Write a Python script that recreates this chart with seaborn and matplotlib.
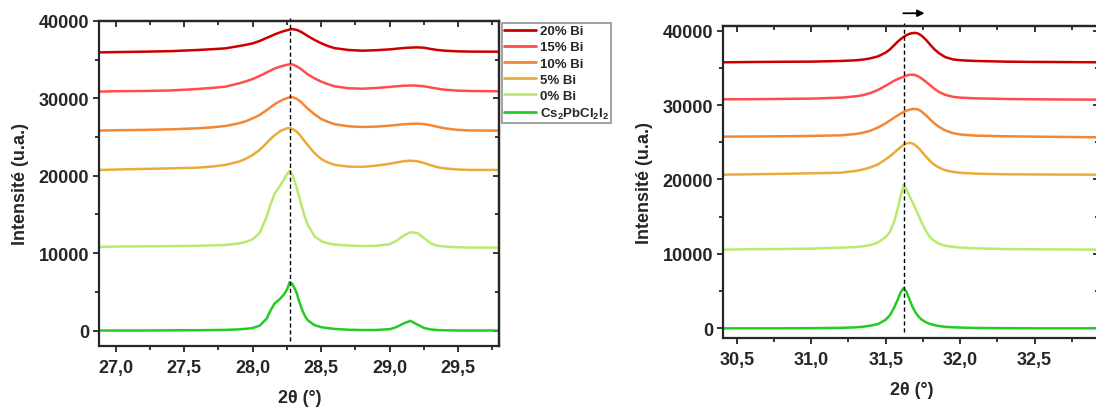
import matplotlib
matplotlib.use('Agg')
import pandas as pd
import matplotlib.pyplot as plt
from matplotlib.lines import Line2D
from matplotlib.ticker import MultipleLocator, FuncFormatter
import seaborn as sns

# sample names (legend order) and colours
samples = ['20% Bi', '15% Bi', '10% Bi', '5% Bi', '0% Bi',
           r'Cs$_\mathbf{2}$PbCl$_\mathbf{2}$I$_\mathbf{2}$']
colors = ['#CC0000', '#FF4D4D', '#F58634', '#EBAA3A', '#B8EA70', '#22CC22']

# left window, peak near 28.3 deg
tt_left = [26.88, 27.0, 27.2, 27.4, 27.6, 27.7, 27.8, 27.9, 27.95, 28.0, 28.05,
           28.1, 28.13, 28.16, 28.2, 28.23, 28.25, 28.27, 28.29, 28.32, 28.34, 28.36,
           28.38, 28.4, 28.45, 28.5, 28.55, 28.6, 28.7, 28.8, 28.9, 29.0, 29.05,
           29.1, 29.15, 29.2, 29.25, 29.3, 29.35, 29.4, 29.5, 29.6, 29.8]
left_20 = [35940, 35980, 36030, 36100, 36250, 36350, 36460, 36760, 36920, 37110, 37410,
           37800, 38020, 38270, 38530, 38710, 38800, 38900, 38950, 38850, 38700, 38520,
           38300, 38070, 37560, 37120, 36750, 36480, 36250, 36160, 36220, 36330, 36420,
           36500, 36560, 36590, 36540, 36380, 36250, 36160, 36070, 36040, 36030]
left_15 = [30870, 30920, 30950, 31020, 31210, 31350, 31510, 31940, 32200, 32500, 32890,
           33330, 33600, 33850, 34100, 34250, 34330, 34400, 34380, 34150, 33930, 33680,
           33400, 33120, 32600, 32160, 31820, 31550, 31300, 31250, 31340, 31480, 31560,
           31630, 31660, 31640, 31560, 31400, 31250, 31120, 30990, 30950, 30910]
left_10 = [25830, 25880, 25920, 26000, 26130, 26250, 26430, 26780, 27050, 27420, 27850,
           28450, 28850, 29250, 29650, 29900, 30030, 30150, 30150, 29950, 29700, 29400,
           29050, 28700, 27950, 27340, 26950, 26650, 26390, 26300, 26350, 26470, 26560,
           26650, 26700, 26730, 26680, 26520, 26320, 26130, 25920, 25850, 25830]
left_5 = [20750, 20800, 20880, 20950, 21050, 21180, 21400, 21830, 22200, 22700, 23330,
          24200, 24750, 25250, 25750, 26000, 26120, 26150, 26050, 25700, 25350, 24900,
          24450, 24000, 22950, 22150, 21700, 21400, 21180, 21150, 21300, 21550, 21720,
          21870, 21950, 21880, 21650, 21350, 21100, 20950, 20800, 20750, 20750]
left_0 = [10800, 10850, 10880, 10900, 10950, 11000, 11060, 11250, 11450, 11800, 12600,
          14600, 16300, 17700, 18700, 19600, 20200, 20650, 20100, 18500, 17200, 15900,
          14700, 13700, 12200, 11550, 11250, 11100, 10980, 10920, 10950, 11150, 11600,
          12250, 12700, 12600, 11950, 11250, 10950, 10850, 10750, 10720, 10700]
left_cs = [0, 0, 0, 20, 40, 60, 80, 150, 220, 320, 620,
           1500, 2600, 3500, 4100, 4700, 5300, 6250, 6000, 4900, 3700, 2700,
           1900, 1350, 700, 430, 300, 200, 100, 60, 70, 170, 450,
           900, 1250, 780, 330, 140, 60, 30, 0, 0, 0]

# right window, peak near 31.6 deg
tt_right = [30.41, 30.6, 30.8, 31.0, 31.2, 31.3, 31.35, 31.4, 31.45, 31.5, 31.53,
            31.56, 31.58, 31.6, 31.62, 31.64, 31.66, 31.68, 31.7, 31.72, 31.74, 31.77,
            31.8, 31.83, 31.86, 31.9, 31.95, 32.0, 32.1, 32.3, 32.5, 32.7, 32.935]
right_20 = [35750, 35790, 35820, 35840, 35930, 36020, 36120, 36290, 36560, 37050, 37500,
            38100, 38500, 38850, 39150, 39400, 39580, 39680, 39700, 39600, 39350, 38800,
            38100, 37450, 36950, 36450, 36150, 36030, 35930, 35840, 35800, 35780, 35750]
right_15 = [30780, 30790, 30830, 30870, 31000, 31180, 31350, 31630, 32050, 32600, 32950,
            33300, 33480, 33650, 33800, 33970, 34070, 34100, 34020, 33850, 33600, 33150,
            32650, 32150, 31750, 31380, 31120, 31000, 30910, 30820, 30780, 30750, 30730]
right_10 = [25760, 25780, 25810, 25850, 25940, 26120, 26300, 26570, 27000, 27550, 27950,
            28350, 28600, 28850, 29050, 29250, 29380, 29470, 29480, 29400, 29150, 28650,
            28050, 27500, 27050, 26600, 26250, 26050, 25900, 25810, 25760, 25720, 25670]
right_5 = [20650, 20700, 20760, 20830, 20920, 21150, 21350, 21640, 22050, 22700, 23150,
           23650, 24000, 24350, 24650, 24850, 24920, 24850, 24600, 24250, 23800, 23100,
           22450, 21950, 21580, 21250, 21030, 20900, 20790, 20700, 20680, 20660, 20650]
right_0 = [10570, 10640, 10660, 10710, 10840, 10930, 11030, 11200, 11550, 12250, 13000,
           14500, 16000, 17700, 19250, 18700, 17800, 16950, 16100, 15200, 14300, 13100,
           12200, 11700, 11350, 11100, 10960, 10850, 10750, 10660, 10620, 10600, 10570]
right_cs = [0, 0, 0, 20, 60, 130, 220, 360, 580, 1150, 1800,
            2900, 3800, 4800, 5400, 4900, 3900, 2900, 2150, 1600, 1200, 820,
            580, 420, 300, 200, 140, 100, 50, 20, 0, 0, 0]

# reference peak positions (dashed lines) and shift arrow
ref_left = 28.27
ref_right = 31.62
shift_from, shift_to, shift_y = 31.60, 31.78, 42340


def long_form(tt, series):
    rows = []
    for name, vals in zip(samples, series):
        rows.append(pd.DataFrame({'tt': tt, 'I': vals, 'sample': name}))
    return pd.concat(rows, ignore_index=True)


df_left = long_form(tt_left, [left_20, left_15, left_10, left_5, left_0, left_cs])
df_right = long_form(tt_right, [right_20, right_15, right_10, right_5, right_0, right_cs])

sns.set_style('ticks')
plt.rcParams['font.family'] = ['Liberation Sans', 'DejaVu Sans']
plt.rcParams['font.weight'] = 'bold'
plt.rcParams['axes.labelweight'] = 'bold'
plt.rcParams['mathtext.fontset'] = 'custom'
plt.rcParams['mathtext.rm'] = 'Liberation Sans:bold'
plt.rcParams['mathtext.bf'] = 'Liberation Sans:bold'

pal = dict(zip(samples, colors))

fig = plt.figure(figsize=(10.96, 4.10), dpi=100)
ax1 = fig.add_axes([0.0906, 0.1537, 0.365, 0.7927])
ax2 = fig.add_axes([0.660, 0.1732, 0.343, 0.7617])

for ax, df in ((ax1, df_left), (ax2, df_right)):
    sns.lineplot(data=df, x='tt', y='I', hue='sample', hue_order=samples, palette=pal,
                 estimator=None, sort=False, lw=1.8, ax=ax, legend=False)

ax1.set_xlim(26.88, 29.80)
ax1.set_ylim(-2000, 40000)
ax2.set_xlim(30.41, 32.935)
ax2.set_ylim(-1300, 40670)

ax1.axvline(ref_left, ymin=0.016, ymax=1.01, color='k', ls=(0, (3, 2)), lw=1, clip_on=False)
ax2.axvline(ref_right, ymin=0.02, ymax=1.01, color='k', ls=(0, (3, 2)), lw=1, clip_on=False)
ax2.annotate('', xy=(shift_to, shift_y), xytext=(shift_from, shift_y),
             arrowprops=dict(arrowstyle='-|>', color='k', lw=1.3, mutation_scale=10),
             annotation_clip=False)

comma = FuncFormatter(lambda v, p: f'{v:.1f}'.replace('.', ','))
for ax in (ax1, ax2):
    ax.xaxis.set_major_locator(MultipleLocator(0.5))
    ax.xaxis.set_minor_locator(MultipleLocator(0.25))
    ax.yaxis.set_major_locator(MultipleLocator(10000))
    ax.yaxis.set_minor_locator(MultipleLocator(5000))
    ax.xaxis.set_major_formatter(comma)
    ax.tick_params(which='both', direction='out', width=1.3, labelsize=13)
    ax.tick_params(which='major', length=4.5)
    ax.tick_params(which='minor', length=3)
    ax.tick_params(axis='x', pad=5)
    ax.tick_params(axis='y', pad=3)
    for sp in ax.spines.values():
        sp.set_linewidth(1.6)
    ax.set_xlabel('2θ (°)', fontsize=13, labelpad=9)
    ax.set_ylabel('Intensité (u.a.)', fontsize=13, labelpad=7)
    for lab in ax.get_xticklabels() + ax.get_yticklabels():
        lab.set_fontweight('bold')
    top = ax.secondary_xaxis('top')
    top.xaxis.set_major_locator(MultipleLocator(0.5))
    top.xaxis.set_minor_locator(MultipleLocator(0.25))
    top.tick_params(which='both', direction='in', labeltop=False, width=1.3)
    top.tick_params(which='major', length=4.5)
    top.tick_params(which='minor', length=3)
    top.spines['top'].set_linewidth(1.6)
    right = ax.secondary_yaxis('right')
    right.yaxis.set_major_locator(MultipleLocator(10000))
    right.yaxis.set_minor_locator(MultipleLocator(5000))
    right.tick_params(which='both', direction='in', labelright=False, width=1.3)
    right.tick_params(which='major', length=4.5)
    right.tick_params(which='minor', length=3)
    right.spines['right'].set_linewidth(1.6)

handles = [Line2D([], [], color=c, lw=2) for c in colors]
leg = fig.legend(handles, samples, loc='upper left', bbox_to_anchor=(502 / 1096, 1 - 24 / 410),
                 frameon=True, fancybox=False, edgecolor='#808080', fontsize=9.5,
                 borderpad=0.15, labelspacing=0.3, handlelength=2.4, handletextpad=0.3,
                 borderaxespad=0)
leg.get_frame().set_linewidth(1.3)
for t in leg.get_texts():
    t.set_fontweight('bold')

fig.savefig('out.png', dpi=100)
